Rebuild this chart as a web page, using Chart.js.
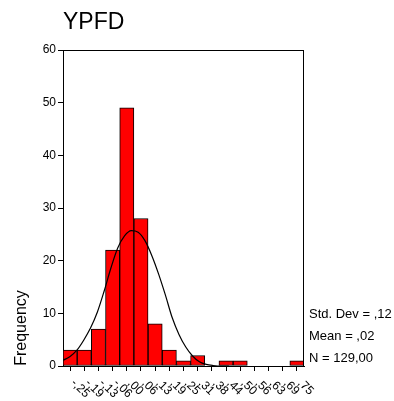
<!DOCTYPE html>
<html>
<head>
<meta charset="utf-8">
<script src="https://cdn.jsdelivr.net/npm/chart.js@4/dist/chart.umd.min.js"></script>
<style>
html,body{margin:0;padding:0;background:#fff;}
canvas{display:block;}
</style>
</head>
<body>
<canvas id="c" width="394" height="401"></canvas>
<script>
// ---- data ----
const chartTitle = "YPFD";
const yAxisTitle = "Frequency";
const binLabels = ["-,25","-,19","-,13","-,06",",00",",06",",13",",19",",25",",31",",38",",44",",50",",56",",63",",69",",75"];
const frequencies = [3,3,7,22,49,28,8,3,1,2,0,1,1,0,0,0,1];
// normal curve, points (x in data units, y in frequency)
const curveX = [-0.281,-0.25,-0.22,-0.19,-0.16,-0.13,-0.10,-0.07,-0.04,-0.01,0.02,0.05,0.08,0.11,0.14,0.17,0.20,0.23,0.26,0.29,0.32,0.35,0.38,0.42,0.45];
const curveY = [1.1,1.8,3.0,4.9,7.2,10.2,14.2,18.6,22.4,24.7,25.7,25.4,23.8,21.0,17.5,13.5,9.2,6.0,3.6,1.9,0.8,0.3,0.1,0,0];
const statsLines = ["Std. Dev = ,12","Mean = ,02","N = 129,00"];
const yMin = 0, yMax = 60, yStep = 10;
const xRangeMin = -0.28125, xRangeMax = 0.78125;

const FONT = "'Liberation Sans', Arial, sans-serif";

const decor = {
  id: 'decor',
  afterDraw(chart) {
    const ctx = chart.ctx;
    const a = chart.chartArea;
    ctx.save();
    // frame top and right
    ctx.strokeStyle = '#000';
    ctx.lineWidth = 1;
    ctx.beginPath();
    ctx.moveTo(a.left, a.top + 0.5);
    ctx.lineTo(a.right, a.top + 0.5);
    ctx.moveTo(a.right - 0.5, a.top);
    ctx.lineTo(a.right - 0.5, a.bottom);
    ctx.stroke();
    // title
    ctx.fillStyle = '#000';
    ctx.font = '23px ' + FONT;
    ctx.textAlign = 'left';
    ctx.textBaseline = 'alphabetic';
    ctx.fillText(chartTitle, a.left, 29);
    // y axis title
    ctx.save();
    ctx.font = '16px ' + FONT;
    ctx.translate(26, 328);
    ctx.rotate(-Math.PI / 2);
    ctx.textAlign = 'center';
    ctx.fillText(yAxisTitle, 0, 0);
    ctx.restore();
    // stats
    ctx.font = '13px ' + FONT;
    statsLines.forEach((t, i) => ctx.fillText(t, a.right + 5, 318 + i * 22));
    // x tick labels, rotated clockwise
    const xs = chart.scales.x;
    ctx.font = '12px ' + FONT;
    ctx.textBaseline = 'top';
    binLabels.forEach((t, i) => {
      const px = xs.getPixelForTick(i);
      ctx.save();
      ctx.translate(px + 7, a.bottom + 11);
      ctx.rotate(Math.PI / 4);
      ctx.fillText(t, 0, 0);
      ctx.restore();
    });
    ctx.restore();
  }
};

new Chart(document.getElementById('c'), {
  type: 'bar',
  data: {
    labels: binLabels,
    datasets: [
      {
        type: 'line',
        data: curveX.map((x, i) => ({x: x, y: curveY[i]})),
        xAxisID: 'xc',
        yAxisID: 'y',
        borderColor: '#000',
        borderWidth: 1.2,
        pointRadius: 0,
        fill: false,
        tension: 0.4,
        cubicInterpolationMode: 'monotone',
        order: 0
      },
      {
        type: 'bar',
        data: frequencies,
        xAxisID: 'x',
        yAxisID: 'y',
        backgroundColor: '#ff0000',
        borderColor: '#000',
        borderWidth: 1,
        borderSkipped: false,
        barPercentage: 1,
        categoryPercentage: 1,
        grouped: false,
        order: 1
      }
    ]
  },
  options: {
    responsive: false,
    devicePixelRatio: 1,
    animation: false,
    layout: {padding: {top: 50, right: 90, left: 0, bottom: 0}},
    plugins: {legend: {display: false}, tooltip: {enabled: false}, title: {display: false}},
    scales: {
      x: {
        type: 'category',
        offset: true,
        grid: {display: true, drawOnChartArea: false, drawTicks: true, tickLength: 5, color: '#000', offset: false},
        border: {display: true, color: '#000', width: 1},
        ticks: {display: false},
        afterFit(s) { s.height = 35; }
      },
      xc: {
        type: 'linear',
        display: false,
        offset: false,
        grid: {offset: false},
        bounds: 'ticks',
        min: xRangeMin,
        max: xRangeMax
      },
      y: {
        min: yMin,
        max: yMax,
        ticks: {stepSize: yStep, color: '#000', font: {family: FONT, size: 12}, padding: 2},
        grid: {display: true, drawOnChartArea: false, drawTicks: true, tickLength: 5, color: '#000'},
        border: {display: true, color: '#000', width: 1},
        afterFit(s) { s.width = 63; }
      }
    }
  },
  plugins: [decor]
});
</script>
</body>
</html>
